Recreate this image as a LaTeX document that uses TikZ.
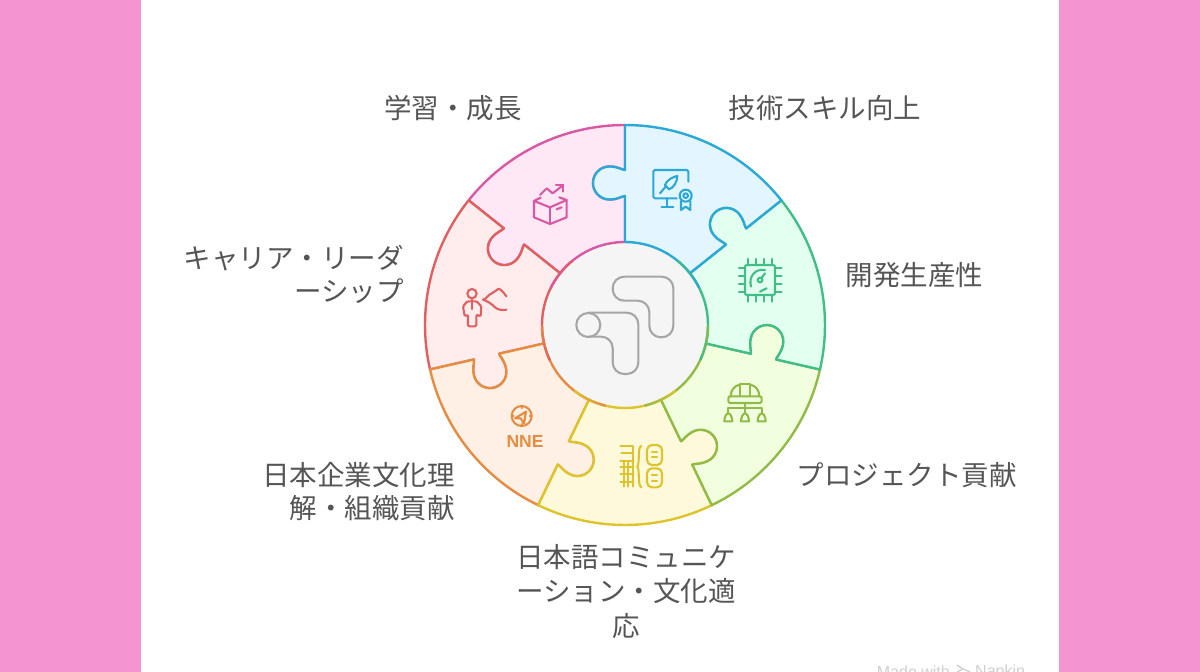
\documentclass[tikz,border=0pt]{standalone}
\usepackage{fontspec}
\newfontfamily\jpfont{Noto Sans CJK JP}
\newfontfamily\lsfont{Liberation Sans}
\definecolor{bgpink}{HTML}{F495CF}
\definecolor{txt}{HTML}{555555}
\definecolor{wm}{HTML}{CFCFCF}
\definecolor{sBlue}{HTML}{2BA9D6}\definecolor{fBlue}{HTML}{E3F6FF}
\definecolor{sGreen}{HTML}{3FBE86}\definecolor{fGreen}{HTML}{E3FFF0}
\definecolor{sLime}{HTML}{90BB47}\definecolor{fLime}{HTML}{F2FFDE}
\definecolor{sYellow}{HTML}{DDC42C}\definecolor{fYellow}{HTML}{FFF9DB}
\definecolor{sOrange}{HTML}{E48C42}\definecolor{fOrange}{HTML}{FFF0E5}
\definecolor{sRed}{HTML}{DF6060}\definecolor{fRed}{HTML}{FFECEC}
\definecolor{sPink}{HTML}{D958A4}\definecolor{fPink}{HTML}{FFE8F6}
\definecolor{cRing}{HTML}{A6A6A6}\definecolor{fCore}{HTML}{F5F5F5}
\tikzset{
  wedge/.style={line width=2.4pt,line join=round},
  ico/.style={line width=2.1pt,line cap=round,line join=round},
  lbl/.style={font=\jpfont\fontsize{27.5}{33}\selectfont,text=txt,inner sep=0pt}
}
\def\bdOI#1{-- (b#1p) .. controls (b#1a) and (b#1b) .. (b#1c) .. controls (b#1d) and (b#1e) .. (b#1f) .. controls (b#1g) and (b#1h) .. (b#1j) .. controls (b#1k) and (b#1l) .. (b#1m) -- (b#1i)}
\def\bdIO#1{-- (b#1m) .. controls (b#1l) and (b#1k) .. (b#1j) .. controls (b#1h) and (b#1g) .. (b#1f) .. controls (b#1e) and (b#1d) .. (b#1c) .. controls (b#1b) and (b#1a) .. (b#1p) -- (b#1o)}
\begin{document}
\begin{tikzpicture}[x=1pt,y=1pt]
\useasboundingbox (0,0) rectangle (1200,672);
\clip (0,0) rectangle (1200,672);
\fill[bgpink] (0,0) rectangle (1200,672);
\fill[white] (141,0) rectangle (1059,672);
% boundary geometry: one puzzle edge, rotated seven times
\foreach \k in {0,...,6}{
  \pgfmathsetmacro{\ang}{90-51.42857*\k}
  \begin{scope}[shift={(625,347)},rotate=\ang]
    \coordinate (b\k o) at (200,0);
    \coordinate (b\k p) at (155,0);
    \coordinate (b\k a) at (155,3);
    \coordinate (b\k b) at (158.5,7);
    \coordinate (b\k c) at (158.5,15.5);
    \coordinate (b\k d) at (158.5,24.6);
    \coordinate (b\k e) at (151.1,32);
    \coordinate (b\k f) at (142,32);
    \coordinate (b\k g) at (132.9,32);
    \coordinate (b\k h) at (125.5,24.6);
    \coordinate (b\k j) at (125.5,15.5);
    \coordinate (b\k k) at (125.5,7);
    \coordinate (b\k l) at (129,3);
    \coordinate (b\k m) at (129,0);
    \coordinate (b\k i) at (83,0);
  \end{scope}
}
\fill[fCore] (625,347) circle[radius=83];
% wedges, painted so that each lies over its clockwise neighbour's edge
\foreach \p/\q/\sa/\ea/\sc/\fc in {
  6/0/141.42857/90/sPink/fPink,
  5/6/192.85714/141.42857/sRed/fRed,
  4/5/244.28571/192.85714/sOrange/fOrange,
  3/4/295.71429/244.28571/sYellow/fYellow,
  2/3/347.14286/295.71429/sLime/fLime,
  1/2/398.57143/347.14286/sGreen/fGreen,
  0/1/450/398.57143/sBlue/fBlue}{
  \draw[wedge,draw=\sc,fill=\fc] (b\p o) arc[start angle=\sa,end angle=\ea,radius=200]
     \bdOI{\q} arc[start angle=\ea,end angle=\sa,radius=83] \bdIO{\p} -- cycle;
}
% soft colour change along the central ring
\foreach \base/\ca/\cb in {
  141.42857/sRed/sPink, 192.85714/sOrange/sRed, 244.28571/sYellow/sOrange,
  295.71429/sLime/sYellow, 347.14286/sGreen/sLime, 38.57143/sBlue/sGreen}{
  \foreach \i in {0,...,9}{
    \pgfmathsetmacro{\st}{\base-12+2.4*\i}
    \pgfmathsetmacro{\en}{\st+2.6}
    \pgfmathsetmacro{\mixv}{5+10*\i}
    \draw[line width=2.4pt,draw=\cb!\mixv!\ca] ([shift={(\st:83)}]625,347) arc[start angle=\st,end angle=\en,radius=83];
  }
}
\begin{scope}[shift={(0,672)},yscale=-1]
% centre icon
\begin{scope}[cRing,line width=2.1pt,rounded corners=11.5pt]
  \draw (640,276.7) -- (673.3,276.7) -- (673.3,337.3) -- (649.3,337.3) -- (649.3,300.7) -- (612.7,300.7) -- (612.7,276.7) -- cycle;
  \draw (588.3,312.7) -- (638.3,312.7) -- (638.3,374) -- (612.7,374) -- (612.7,336.7) -- (588.3,336.7);
  \draw (588.3,325) circle[radius=12];
\end{scope}
% pink icon
\begin{scope}[shift={(420,120)},scale=1/3,sPink,ico]
  \draw (342,243) -- (390,262) -- (440,240) -- (440,292) -- (390,312) -- (342,292) -- cycle;
  \draw (390,262) -- (390,312);
  \draw (342,243) -- (362,233) (440,240) -- (418,232);
  \draw (360,225) -- (380,205) -- (398,220) -- (430,195);
  \draw (408,195) -- (430,195) -- (430,215);
  \draw (410,268) -- (425,262);
\end{scope}
% blue icon
\begin{scope}[shift={(645,165)},scale=1/3,sBlue,ico]
  \draw[rounded corners=1.5pt] (130,50) -- (130,15) -- (25,15) -- (25,100) -- (95,100);
  \draw (65,100) -- (65,125) (50,125) -- (85,125);
  \draw (45,85) -- (62,65);
  \draw (60,60) .. controls (65,45) and (85,35) .. (97,33) .. controls (97,50) and (85,70) .. (72,73) -- cycle;
  \draw (122,92) circle[radius=18];
  \draw (122,92) circle[radius=7];
  \draw (108,108) -- (108,135) -- (122,125) -- (136,135) -- (136,108);
\end{scope}
% green icon
\begin{scope}[shift={(735,255)},scale=1/3,sGreen,ico]
  \draw[rounded corners=2pt] (30,30) rectangle (120,120);
  \foreach \v in {40,62,88,110}{
    \draw (\v,12) -- (\v,30) (\v,120) -- (\v,140);
    \draw (12,\v) -- (30,\v) (120,\v) -- (140,\v);
  }
  \draw (90,45) .. controls (60,40) and (40,65) .. (48,95);
  \draw (75,75) circle[radius=7];
  \draw (80,68) -- (90,55);
  \draw (75,110) -- (95,100);
\end{scope}
% lime icon
\begin{scope}[shift={(720,378)},scale=1/3,sLime,ico]
  \draw (32,55) .. controls (32,35) and (45,22) .. (60,20) (118,55) .. controls (118,35) and (105,22) .. (90,20);
  \draw (60,52) -- (60,18) -- (90,18) -- (90,52);
  \draw[rounded corners=2pt] (25,55) rectangle (125,75);
  \draw (75,78) -- (75,105) (25,105) -- (25,90) -- (125,90) -- (125,105);
  \foreach \v in {25,75,125}{
    \draw (\v-12,130) .. controls (\v-12,118) and (\v-6,106) .. (\v,106) .. controls (\v+6,106) and (\v+12,118) .. (\v+12,130) -- cycle;
  }
\end{scope}
% yellow icon
\begin{scope}[shift={(612,440)},scale=1/3,sYellow,ico]
  \draw (25,18) -- (62,18) -- (62,140);
  \draw (28,40) -- (62,40);
  \draw (25,62) -- (65,62) (25,82) -- (65,82) (25,102) -- (65,102) (25,125) -- (65,125);
  \draw (35,62) -- (35,140) (48,62) -- (48,140);
  \draw (88,18) .. controls (76,20) and (84,70) .. (76,80) .. controls (84,90) and (76,135) .. (88,142);
  \draw[rounded corners=5pt] (105,15) rectangle (150,75);
  \draw[rounded corners=5pt] (105,85) rectangle (150,142);
  \draw (120,35) -- (135,35) (120,52) -- (135,52) (120,105) -- (135,105) (120,122) -- (135,122);
\end{scope}
% orange icon
\begin{scope}[shift={(500,400)},scale=1/3,sOrange,ico]
  \draw (65,48) circle[radius=30];
  \draw (45,55) -- (78,35) -- (72,70) -- (62,55) -- cycle;
  \draw (65,18) -- (65,24) (65,72) -- (65,78) (35,48) -- (41,48) (89,48) -- (95,48);
\end{scope}
\node[inner sep=0pt,text=sOrange,font=\lsfont\bfseries\fontsize{17.5}{18}\selectfont] (nne) at (525,441.5) {NNE};
% red icon
\begin{scope}[shift={(458,283)},scale=1/3,sRed,ico]
  \draw (42,32) circle[radius=14];
  \draw[rounded corners=1.2pt] (20,100) -- (15,70) -- (28,55) -- (56,55) -- (70,70) -- (68,100) -- (55,95) -- (55,130) -- (30,130) -- (30,95) -- cycle;
  \draw (42,50) -- (42,78);
  \draw (75,50) .. controls (85,50) and (90,35) .. (100,32) .. controls (110,30) and (112,20) .. (122,17) .. controls (130,20) and (138,30) .. (145,40);
  \draw (75,50) .. controls (90,55) and (100,62) .. (110,72) .. controls (120,82) and (135,82) .. (145,80);
\end{scope}
% labels
\node[lbl] (l1) at (453,108) {学習・成長};
\node[lbl] (l2) at (825,108) {技術スキル向上};
\node[lbl] (l3) at (914.5,275) {開発生産性};
\node[lbl] (l4) at (906.5,475) {プロジェクト貢献};
\node[lbl,align=right,anchor=east] (l5) at (404,274) {キャリア・リーダ\\ーシップ};
\node[lbl,align=right,anchor=east] (l6) at (455,491.5) {日本企業文化理\\解・組織貢献};
\node[lbl,align=center,font=\jpfont\fontsize{27.5}{34.5}\selectfont] (l7) at (626,591.5) {日本語コミュニケ\\ーション・文化適\\応};
% watermark
\node[inner sep=0pt,text=wm,font=\lsfont\fontsize{16}{17}\selectfont,anchor=east] (w1) at (950,672) {Made with};
\node[inner sep=0pt,text=wm,font=\lsfont\fontsize{16}{17}\selectfont,anchor=west] (w2) at (975,672) {Napkin};
\draw[wm,line width=1.3pt] (957,665) -- (963,669) -- (957,672) (963,669) -- (970,672);
\end{scope}
\end{tikzpicture}
\end{document}
